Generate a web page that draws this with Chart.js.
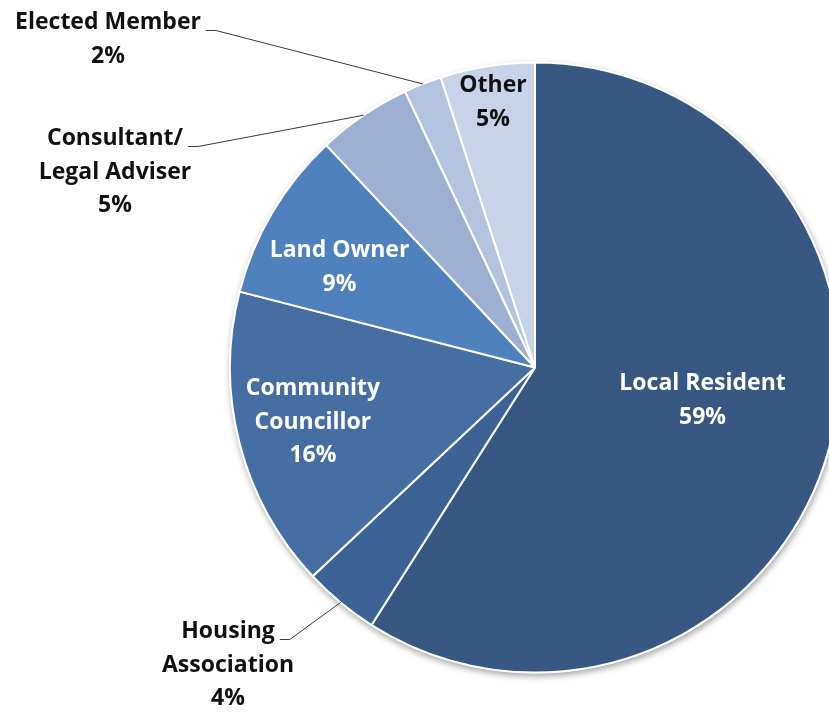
<!DOCTYPE html>
<html>
<head>
<meta charset="utf-8">
<script src="https://cdn.jsdelivr.net/npm/chart.js@4.4.0/dist/chart.umd.min.js"></script>
<style>
  html, body { margin: 0; padding: 0; background: #ffffff; }
  #wrap { width: 829px; height: 713px; position: relative; overflow: hidden; }
</style>
</head>
<body>
<div id="wrap"><canvas id="c" width="829" height="713"></canvas></div>
<script>
// ---- data ----
const categories = ['Local Resident', 'Housing Association', 'Community Councillor', 'Land Owner', 'Consultant/ Legal Adviser', 'Elected Member', 'Other'];
const shares = [59, 4, 16, 9, 5, 2, 5];
const labelLines = [['Local Resident'], ['Housing', 'Association'], ['Community', 'Councillor'], ['Land Owner'], ['Consultant/', 'Legal Adviser'], ['Elected Member'], ['Other']];
const sliceColors = ['#365882', '#3B6396', '#456FA3', '#4F81BD', '#9DB0D4', '#B4C3DF', '#C9D3E8'];

// ---- label placement (style, not data) ----
const FONT = 'bold 23px "Open Sans", Lato, sans-serif';
const LINE_H = 33.5;
const placement = [
  { inside: true, r: 0.56, da: -5, color: '#ffffff' },
  { inside: false, dx: -307, dy: 264, color: '#111111' },
  { inside: true, r: 0.75, da: 0.5, color: '#ffffff' },
  { inside: true, r: 0.72, da: -3.5, color: '#ffffff' },
  { inside: false, dx: -420, dy: -229, color: '#111111' },
  { inside: false, dx: -427, dy: -345, color: '#111111' },
  { inside: true, r: 0.88, da: 0, color: '#111111' }
];

const labelPlugin = {
  id: 'pieLabels',
  beforeDatasetsDraw(chart) {
    const arc = chart.getDatasetMeta(0).data[0];
    if (!arc) return;
    const ctx = chart.ctx;
    ctx.save();
    ctx.shadowColor = 'rgba(0,0,0,0.35)';
    ctx.shadowBlur = 6;
    ctx.shadowOffsetX = 1;
    ctx.shadowOffsetY = 3;
    ctx.fillStyle = '#ffffff';
    ctx.beginPath();
    ctx.arc(arc.x, arc.y, arc.outerRadius + 1, 0, Math.PI * 2);
    ctx.fill();
    ctx.restore();
  },
  afterDatasetsDraw(chart) {
    const ctx = chart.ctx;
    const meta = chart.getDatasetMeta(0);
    ctx.save();
    ctx.font = FONT;
    ctx.textAlign = 'center';
    ctx.textBaseline = 'middle';
    meta.data.forEach((el, i) => {
      const p = placement[i];
      const lines = labelLines[i].concat([shares[i] + '%']);
      const mid = (el.startAngle + el.endAngle) / 2;
      const cx = el.x, cy = el.y, R = el.outerRadius;
      let x, y;
      if (p.inside) {
        const a = mid + p.da * Math.PI / 180;
        x = cx + Math.cos(a) * R * p.r;
        y = cy + Math.sin(a) * R * p.r - (lines.length - 1) * LINE_H / 2;
      } else {
        x = cx + p.dx;
        y = cy + p.dy;
        // leader line
        const w = ctx.measureText(lines[0]).width;
        const sx = x + w / 2 + 5;
        const sy = y + 8;
        const ex = cx + Math.cos(mid) * R;
        const ey = cy + Math.sin(mid) * R;
        ctx.strokeStyle = '#3a3a3a';
        ctx.lineWidth = 1;
        ctx.beginPath();
        ctx.moveTo(sx, sy);
        ctx.lineTo(sx + 10, sy);
        ctx.lineTo(ex, ey);
        ctx.stroke();
      }
      ctx.fillStyle = p.color;
      lines.forEach((t, k) => ctx.fillText(t, x, y + k * LINE_H));
    });
    ctx.restore();
  }
};

new Chart(document.getElementById('c'), {
  type: 'pie',
  data: {
    labels: categories,
    datasets: [{
      data: shares,
      backgroundColor: sliceColors,
      borderColor: '#ffffff',
      borderWidth: 2,
      radius: 305,
      clip: false
    }]
  },
  options: {
    responsive: false,
    animation: false,
    layout: { padding: { left: 241, right: 0, top: 22, bottom: 0 } },
    plugins: { legend: { display: false }, tooltip: { enabled: false } }
  },
  plugins: [labelPlugin]
});
</script>
</body>
</html>
